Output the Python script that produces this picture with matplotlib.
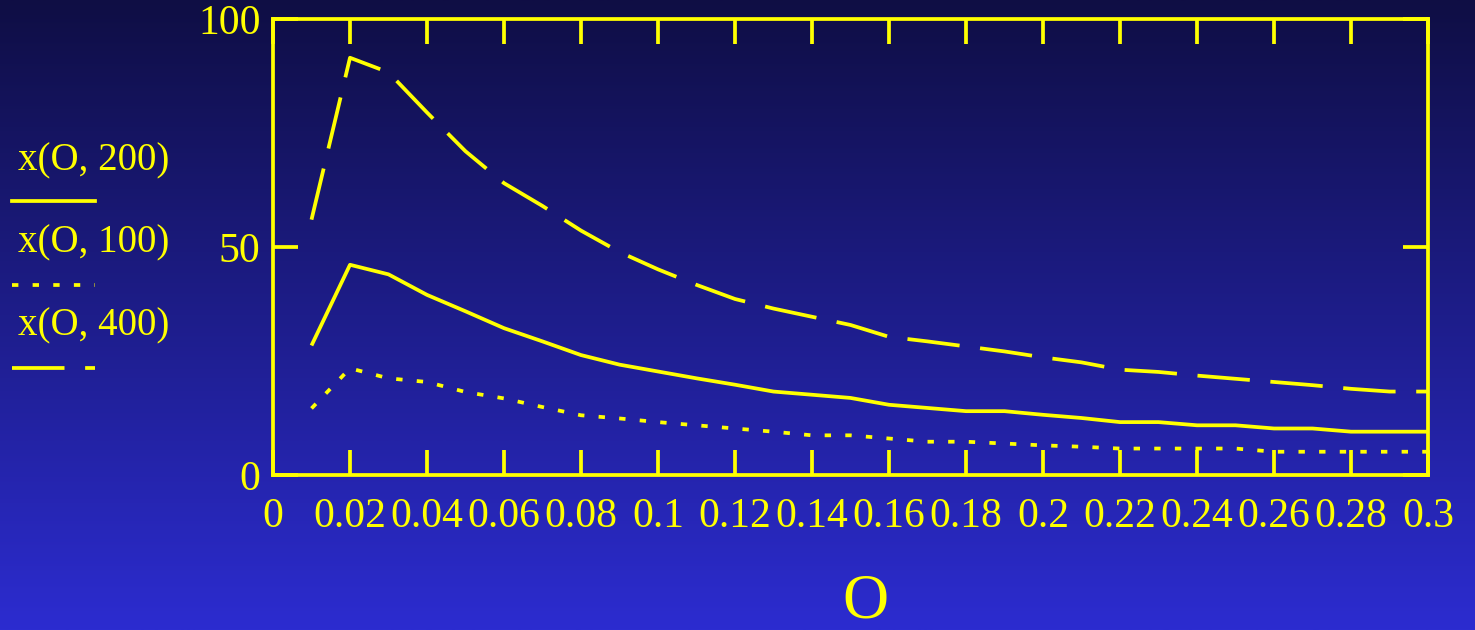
import numpy as np
import matplotlib
matplotlib.use("Agg")
import matplotlib.pyplot as plt
from matplotlib.lines import Line2D

# ---- data ----
omega = [0.01, 0.02, 0.03, 0.04, 0.05, 0.06, 0.07, 0.08, 0.09, 0.10,
         0.11, 0.12, 0.13, 0.14, 0.15, 0.16, 0.17, 0.18, 0.19, 0.20,
         0.21, 0.22, 0.23, 0.24, 0.25, 0.26, 0.27, 0.28, 0.29, 0.30]

x_200 = [28.4, 46.1, 44.0, 39.5, 35.9, 32.2, 29.3, 26.3, 24.2, 22.7,
         21.2, 19.8, 18.3, 17.6, 16.9, 15.4, 14.7, 14.0, 14.0, 13.2,
         12.5, 11.6, 11.6, 10.9, 10.9, 10.2, 10.2, 9.5, 9.5, 9.5]

x_100 = [14.6, 23.4, 21.2, 20.4, 18.2, 16.8, 14.9, 13.1, 12.4, 11.6,
         10.9, 10.2, 9.5, 8.7, 8.7, 8.0, 7.3, 7.3, 6.9, 6.5,
         6.2, 5.8, 5.8, 5.8, 5.8, 5.1, 5.1, 5.1, 5.1, 5.1]

x_400 = [56.0, 91.5, 88.3, 79.5, 71.0, 64.0, 59.0, 53.6, 48.9, 45.1,
         41.7, 38.6, 36.5, 34.7, 32.9, 30.3, 29.3, 28.2, 27.1, 25.8,
         24.7, 23.1, 22.6, 21.8, 21.1, 20.4, 19.7, 18.9, 18.3, 18.3]

legend_labels = ["x(O, 200)", "x(O, 100)", "x(O, 400)"]
x_ticks = [0, 0.02, 0.04, 0.06, 0.08, 0.1, 0.12, 0.14, 0.16, 0.18,
           0.2, 0.22, 0.24, 0.26, 0.28, 0.3]
x_tick_labels = ["0", "0.02", "0.04", "0.06", "0.08", "0.1", "0.12", "0.14",
                 "0.16", "0.18", "0.2", "0.22", "0.24", "0.26", "0.28", "0.3"]
y_ticks = [0, 50, 100]

YEL = "#ffff00"
SERIF = ["Liberation Serif", "DejaVu Serif"]
plt.rcParams["font.family"] = SERIF

fig = plt.figure(figsize=(14.75, 6.3), dpi=100)

# background gradient (dark navy at top -> brighter blue at bottom)
bg = fig.add_axes([0, 0, 1, 1], zorder=-10)
top = np.array([15, 14, 68]) / 255
bot = np.array([44, 44, 208]) / 255
t = np.linspace(0, 1, 256)[:, None]
grad = (top * (1 - t) + bot * t)[:, None, :].repeat(2, axis=1)
bg.imshow(grad, aspect="auto", extent=[0, 1, 0, 1], origin="upper")
bg.set_axis_off()

ax = fig.add_axes([273 / 1475, 155 / 630, 1155 / 1475, 456 / 630])
ax.patch.set_alpha(0)

lw = 2.7
dot_style = (0, (1.7, 3.8))
dash_style = (0, (14, 5.5))
ax.plot(omega, x_200, color=YEL, lw=lw, solid_capstyle="butt")
ax.plot(omega, x_100, color=YEL, lw=lw, linestyle=dot_style,
        dash_capstyle="butt")
ax.plot(omega, x_400, color=YEL, lw=lw, linestyle=dash_style,
        dash_capstyle="butt")

ax.set_xlim(0, 0.3)
ax.set_ylim(0, 100)
ax.set_xticks(x_ticks)
ax.set_xticklabels(x_tick_labels)
ax.set_yticks(y_ticks)

for s in ax.spines.values():
    s.set_color(YEL)
    s.set_linewidth(2.7)

ax.tick_params(axis="both", direction="in", length=18, width=2.7,
               color=YEL, labelcolor=YEL, labelsize=30,
               top=True, right=True)
ax.tick_params(axis="x", pad=16)
ax.tick_params(axis="y", pad=9)

# axis label
fig.text(865 / 1475, 1 - 603 / 630, "O", color=YEL, fontsize=46,
         ha="center", va="center")

# legend on the left: label above, line sample below
styles = ["-", dot_style, dash_style]
label_y = [161, 243, 326]
line_y = [201, 285, 368]
for lab, st, ly, sy in zip(legend_labels, styles, label_y, line_y):
    fig.text(18 / 1475, 1 - ly / 630, lab, color=YEL, fontsize=28,
             ha="left", va="center")
    fig.add_artist(Line2D([12 / 1475, 95 / 1475], [1 - sy / 630] * 2,
                          transform=fig.transFigure, color=YEL, lw=lw,
                          linestyle=st, dash_capstyle="butt"))

fig.savefig("out.png", dpi=100)
